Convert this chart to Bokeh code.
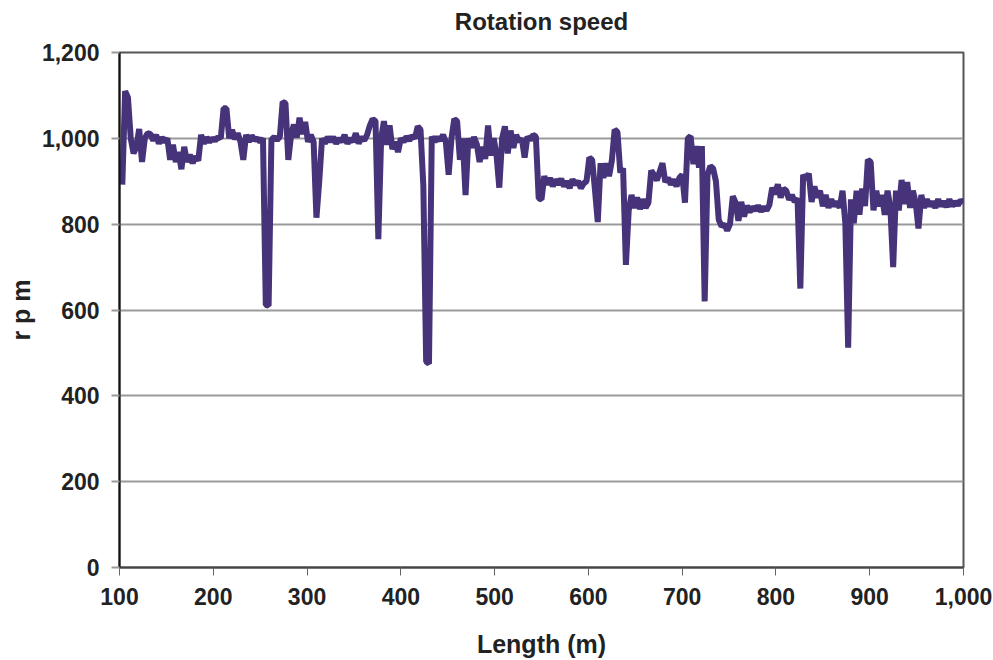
from bokeh.plotting import figure
from bokeh.models import Range1d, NumeralTickFormatter, FixedTicker
from bokeh.embed import file_html
from bokeh.resources import INLINE

# Length positions (m)
length_m = [
    103, 106, 109, 112, 115, 118, 121, 124, 127, 130,
    133, 136, 139, 142, 145, 148, 151, 154, 157, 160,
    163, 166, 169, 172, 175, 178, 181, 184, 187, 190,
    193, 196, 199, 202, 205, 208, 211, 214, 217, 220,
    223, 226, 229, 232, 235, 238, 241, 244, 247, 250,
    253, 256, 259, 262, 265, 268, 271, 274, 277, 280,
    283, 286, 289, 292, 295, 298, 301, 304, 307, 310,
    313, 316, 319, 322, 325, 328, 331, 334, 337, 340,
    343, 346, 349, 352, 355, 358, 361, 364, 367, 370,
    373, 376, 379, 382, 385, 388, 391, 394, 397, 400,
    403, 406, 409, 412, 415, 418, 421, 424, 427, 430,
    433, 436, 439, 442, 445, 448, 451, 454, 457, 460,
    463, 466, 469, 472, 475, 478, 481, 484, 487, 490,
    493, 496, 499, 502, 505, 508, 511, 514, 517, 520,
    523, 526, 529, 532, 535, 538, 541, 544, 547, 550,
    553, 556, 559, 562, 565, 568, 571, 574, 577, 580,
    583, 586, 589, 592, 595, 598, 601, 604, 607, 610,
    613, 616, 619, 622, 625, 628, 631, 634, 637, 640,
    643, 646, 649, 652, 655, 658, 661, 664, 667, 670,
    673, 676, 679, 682, 685, 688, 691, 694, 697, 700,
    703, 706, 709, 712, 715, 718, 721, 724, 727, 730,
    733, 736, 739, 742, 745, 748, 751, 754, 757, 760,
    763, 766, 769, 772, 775, 778, 781, 784, 787, 790,
    793, 796, 799, 802, 805, 808, 811, 814, 817, 820,
    823, 826, 829, 832, 835, 838, 841, 844, 847, 850,
    853, 856, 859, 862, 865, 868, 871, 874, 877, 880,
    883, 886, 889, 892, 895, 898, 901, 904, 907, 910,
    913, 916, 919, 922, 925, 928, 931, 934, 937, 940,
    943, 946, 949, 952, 955, 958, 961, 964, 967, 970,
    973, 976, 979, 982, 985, 988, 991, 994, 997, 1000,
]

# Rotation speed (rpm)
rpm = [
    892, 1110, 1095, 1000, 965, 980, 1022, 945, 1000, 1012,
    1010, 995, 1008, 988, 1002, 992, 1000, 950, 985, 945,
    968, 928, 980, 945, 962, 942, 958, 948, 1008, 988,
    1002, 992, 1000, 995, 1003, 1000, 1070, 1070, 1000, 1020,
    998, 1012, 992, 950, 1008, 992, 1006, 996, 1000, 992,
    1000, 612, 610, 997, 1003, 996, 1004, 1085, 1082, 950,
    1008, 1032, 1002, 1048, 1010, 1038, 992, 1008, 992, 815,
    900, 1000, 988, 1003, 992, 1003, 988, 1000, 992, 1008,
    988, 1000, 992, 1012, 988, 1003, 995, 1008, 1030, 1045,
    1040, 765, 1000, 1040, 985, 1030, 975, 992, 968, 1000,
    992, 1004, 995, 1006, 1000, 1028, 1020, 890, 480, 475,
    1004, 992, 1003, 995, 1008, 992, 915, 1000, 1045, 1040,
    950, 1000, 868, 1000, 978, 1003, 986, 945, 980, 952,
    1030, 960, 1000, 962, 885, 1000, 1028, 965, 1018, 978,
    1008, 992, 1000, 955, 1004, 996, 1008, 1004, 860, 858,
    912, 892, 908, 888, 904, 892, 906, 888, 900, 884,
    904, 892, 900, 884, 895, 900, 955, 950, 880, 805,
    942, 908, 942, 912, 948, 1020, 1015, 920, 930, 705,
    832, 868, 838, 862, 835, 858, 838, 850, 925, 915,
    902, 922, 942, 898, 908, 892, 904, 888, 908, 915,
    850, 1000, 1005, 940, 982, 932, 982, 620, 915, 935,
    930, 900, 810, 795, 800, 785, 800, 865, 850, 808,
    852, 818, 843, 828, 840, 832, 843, 830, 840, 832,
    845, 885, 870, 893, 862, 883, 878, 857, 868, 852,
    860, 650, 915, 905, 918, 852, 888, 862, 878, 842,
    868, 838, 858, 842, 853, 838, 878, 802, 512, 858,
    802, 878, 822, 883, 842, 950, 945, 832, 878, 842,
    868, 822, 878, 838, 700, 878, 832, 903, 847, 898,
    838, 878, 850, 790, 868, 838, 858, 842, 853, 838,
    858, 842, 853, 840, 858, 842, 853, 844, 856, 850,
]

x_ticks = [100, 200, 300, 400, 500, 600, 700, 800, 900, 1000]
y_ticks = [0, 200, 400, 600, 800, 1000, 1200]
title_text = "Rotation speed"

FONT = "Liberation Sans"
TXT = "#222222"

p = figure(width=993, height=660, output_backend="svg", toolbar_location=None,
           x_range=Range1d(100, 1000), y_range=Range1d(0, 1200),
           min_border_left=119, min_border_right=30, min_border_top=52, min_border_bottom=93)

p.title.text = title_text
p.title.align = "center"
p.title.text_font = FONT
p.title.text_font_size = "24px"
p.title.text_font_style = "bold"
p.title.text_color = TXT
p.title.standoff = 4
p.title.padding = dict(top=0, right=0, bottom=16, left=0)

p.line(length_m, rpm, line_color="#46337a", line_width=6, line_join="bevel")

p.outline_line_color = "#555555"
p.outline_line_width = 2
p.background_fill_color = "white"
p.border_fill_color = "white"

p.xgrid.visible = False
p.ygrid.grid_line_color = "#9a9a9a"
p.ygrid.grid_line_width = 2

p.xaxis.ticker = FixedTicker(ticks=x_ticks)
p.yaxis.ticker = FixedTicker(ticks=y_ticks)
p.xaxis.formatter = NumeralTickFormatter(format="0,0")
p.yaxis.formatter = NumeralTickFormatter(format="0,0")

for ax in (p.xaxis, p.yaxis):
    ax.major_label_text_font = FONT
    ax.major_label_text_font_size = "23px"
    ax.major_label_text_font_style = "bold"
    ax.major_label_text_color = TXT
    ax.axis_label_text_font = FONT
    ax.axis_label_text_font_size = "25px"
    ax.axis_label_text_font_style = "bold"
    ax.axis_label_text_color = TXT
    ax.minor_tick_line_color = None
    ax.major_tick_in = 0
    ax.major_tick_out = 8
    ax.axis_line_width = 2

p.xaxis.axis_label = "Length (m)"
p.yaxis.axis_label = "r p m"
p.xaxis.axis_line_color = "#444444"
p.xaxis.major_tick_line_color = "#666666"
p.xaxis.major_tick_line_width = 1
p.yaxis.axis_line_color = "#111111"
p.yaxis.major_tick_line_color = "#9a9a9a"
p.yaxis.major_tick_line_width = 2
p.xaxis.major_label_standoff = 12
p.yaxis.major_label_standoff = 12
p.xaxis.axis_label_standoff = 22
p.yaxis.axis_label_standoff = 4

open("out.html", "w").write(file_html(p, INLINE))
